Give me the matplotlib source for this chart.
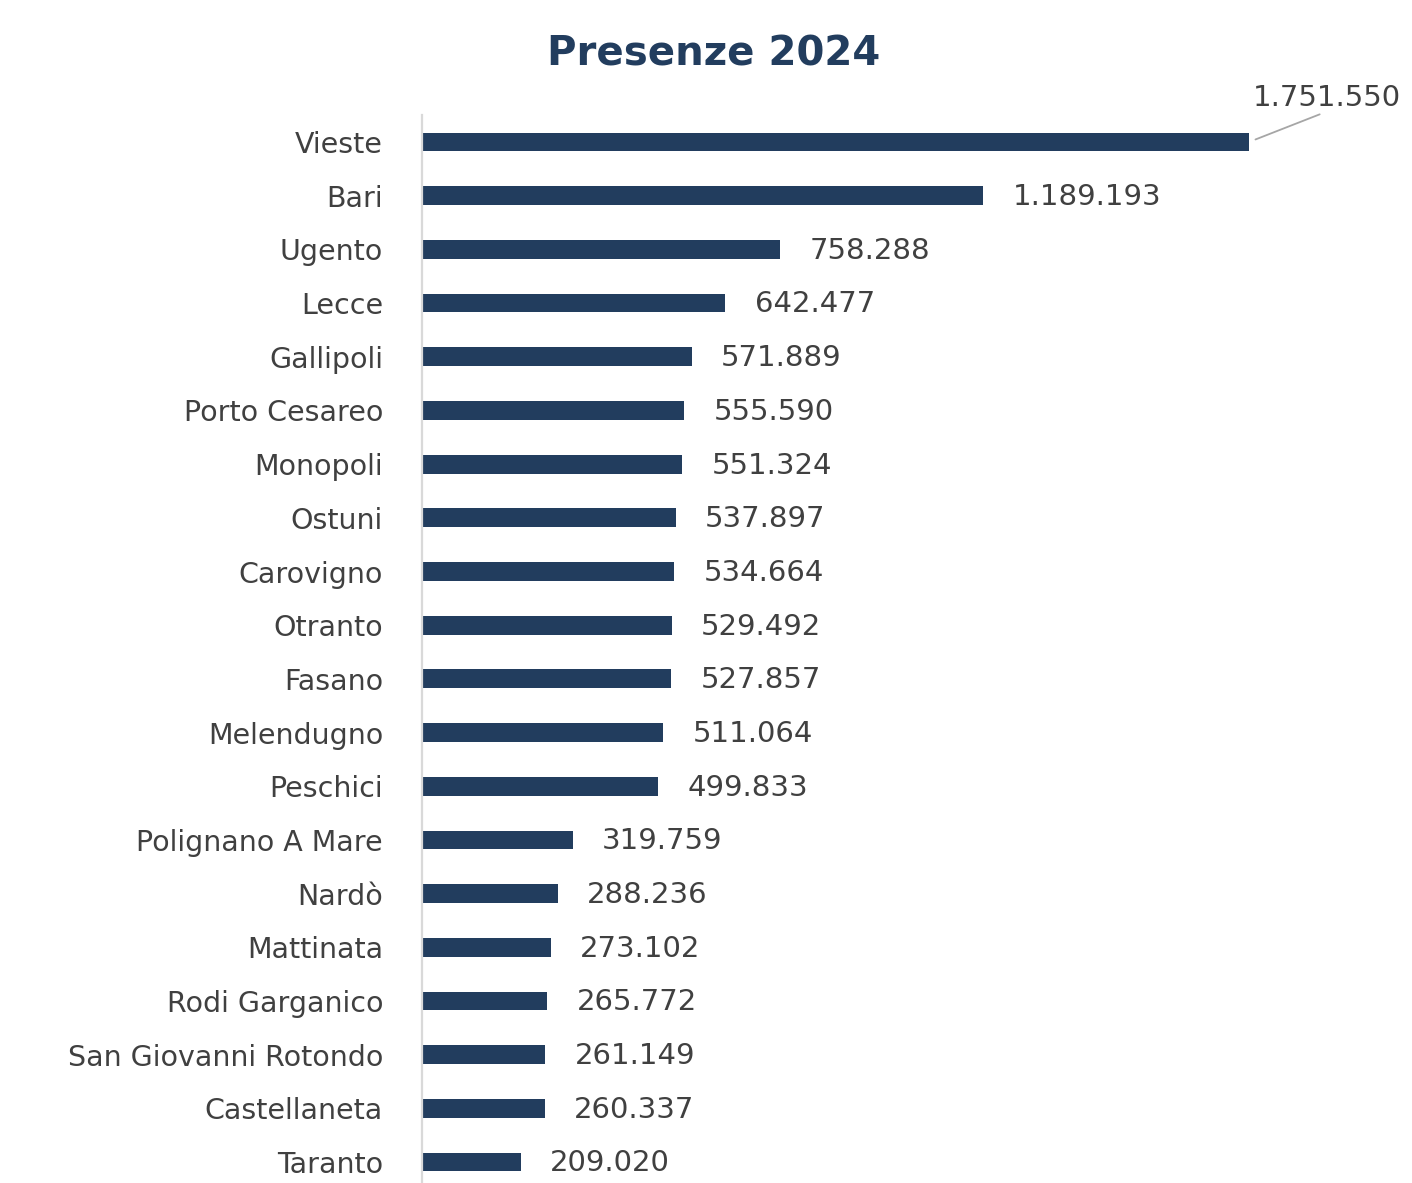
import matplotlib.pyplot as plt

# dati presenze 2024
comuni = ["Vieste", "Bari", "Ugento", "Lecce", "Gallipoli", "Porto Cesareo",
          "Monopoli", "Ostuni", "Carovigno", "Otranto", "Fasano", "Melendugno",
          "Peschici", "Polignano A Mare", "Nardò", "Mattinata", "Rodi Garganico",
          "San Giovanni Rotondo", "Castellaneta", "Taranto"]
presenze = [1751550, 1189193, 758288, 642477, 571889, 555590, 551324, 537897,
            534664, 529492, 527857, 511064, 499833, 319759, 288236, 273102,
            265772, 261149, 260337, 209020]

bar_col = "#223d5e"
txt_col = "#404040"

def fmt(v):
    return f"{v:,}".replace(",", ".")

fig = plt.figure(figsize=(14.12, 11.83), dpi=100)
ax = fig.add_axes([422/1412, 0, 978/1412, 1 - 115/1183])

y = list(range(len(comuni)))
ax.barh(y, presenze, height=0.35, color=bar_col)

ax.set_ylim(19.39, -0.503)
ax.set_xlim(0, presenze[0] * 978 / 827)

ax.set_yticks(y)
ax.set_yticklabels(comuni, fontsize=20.5, color=txt_col)
ax.tick_params(axis="y", length=0, pad=28)
ax.set_xticks([])

for s in ["top", "right", "bottom"]:
    ax.spines[s].set_visible(False)
ax.spines["left"].set_color("#d9d9d9")
ax.spines["left"].set_linewidth(1.6)

# etichette valori
for i, v in enumerate(presenze):
    if i == 0:
        ax.annotate(fmt(v), xy=(v, i), xytext=(56, 32), textcoords="offset points",
                    ha="center", va="center", fontsize=21, color=txt_col,
                    arrowprops=dict(arrowstyle="-", color="#a6a6a6", lw=1.3,
                                    relpos=(0.5, 0), shrinkA=0, shrinkB=5))
    else:
        ax.annotate(fmt(v), xy=(v, i), xytext=(21, -1), textcoords="offset points",
                    ha="left", va="center", fontsize=21, color=txt_col)

fig.text(714/1412, 1 - 55/1183, "Presenze 2024", ha="center", va="center",
         fontsize=29, fontweight="bold", color=bar_col)

fig.savefig("out.png", dpi=100)
